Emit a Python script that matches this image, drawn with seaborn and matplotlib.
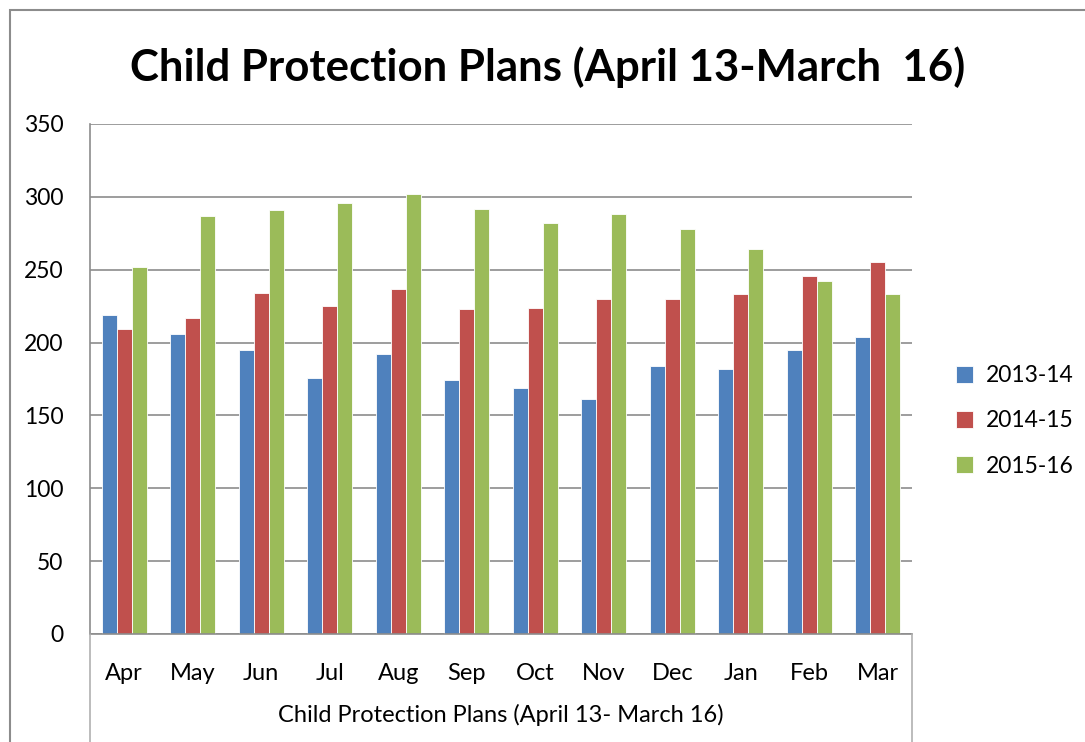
import matplotlib
matplotlib.use("Agg")
import matplotlib.pyplot as plt
import seaborn as sns
import pandas as pd
from matplotlib.lines import Line2D
from matplotlib.patches import Rectangle

months = ["Apr", "May", "Jun", "Jul", "Aug", "Sep", "Oct", "Nov", "Dec", "Jan", "Feb", "Mar"]
series_names = ["2013-14", "2014-15", "2015-16"]
v_2013_14 = [219, 206, 195, 176, 192, 174, 169, 161, 184, 182, 195, 204]
v_2014_15 = [209, 217, 234, 225, 237, 223, 224, 230, 230, 233, 246, 255]
v_2015_16 = [252, 287, 291, 296, 302, 292, 282, 288, 278, 264, 242, 233]
colors = ["#4F81BD", "#C0504D", "#9BBB59"]
title = "Child Protection Plans (April 13-March  16)"
xlabel = "Child Protection Plans (April 13- March 16)"

rows = []
for name, vals in zip(series_names, [v_2013_14, v_2014_15, v_2015_16]):
    for m, v in zip(months, vals):
        rows.append({"Month": m, "Year": name, "Value": v})
df = pd.DataFrame(rows)

sns.set_theme(style="white")
plt.rcParams['font.family'] = ['Lato', 'DejaVu Sans']
plt.rcParams['text.color'] = 'black'
plt.rcParams['xtick.color'] = 'black'
plt.rcParams['ytick.color'] = 'black'
plt.rcParams['axes.labelcolor'] = 'black'

W, H = 1085, 742
fig = plt.figure(figsize=(W / 100, H / 100), dpi=100)
fig.patch.set_facecolor("white")

# outer chart border
fig.add_artist(Rectangle((10 / W, -0.1), 1.2, (H - 10) / H + 0.1, transform=fig.transFigure,
                         fill=False, edgecolor="#8c8c8c", linewidth=1.5))

L, R, T, B = 90, 912, 124, 634
ax = fig.add_axes([L / W, 1 - B / H, (R - L) / W, (B - T) / H])

sns.barplot(data=df, x="Month", y="Value", hue="Year", order=months, hue_order=series_names,
            palette=colors, width=0.66, gap=0, ax=ax, edgecolor="white", linewidth=0.6,
            saturation=1, legend=True)

ax.set_ylim(0, 350)
ax.set_yticks(range(0, 351, 50))
ax.set_xlim(-0.5, len(months) - 0.5)
ax.yaxis.grid(True, color="#8c8c8c", linewidth=1.2)
ax.set_axisbelow(True)
for s in ["top", "right"]:
    ax.spines[s].set_visible(False)
for s in ["left", "bottom"]:
    ax.spines[s].set_color("#8c8c8c")
    ax.spines[s].set_linewidth(1.2)
ax.tick_params(axis="y", labelsize=16.5, pad=13, left=False)
ax.tick_params(axis="x", labelsize=17, pad=15, bottom=False)
ax.set_ylabel("")
ax.set_xlabel(xlabel, fontsize=17, labelpad=14)

# category axis box lines
for xp in (L, R):
    fig.add_artist(Line2D([xp / W, xp / W], [0, 1 - B / H], transform=fig.transFigure,
                          color="#b0b0b0", linewidth=1.2))

fig.text(548 / W, 1 - 67 / H, title, ha="center", va="center", fontsize=31.5, fontweight="bold")

handles, labels = ax.get_legend_handles_labels()
ax.legend_.remove()
fig.legend(handles, labels, loc="center left", bbox_to_anchor=(935 / W, 1 - 421 / H),
           frameon=False, fontsize=16.5, handlelength=0.75, handleheight=0.75,
           labelspacing=1.05, handletextpad=0.55)

fig.savefig("out.png", dpi=100, facecolor="white")
